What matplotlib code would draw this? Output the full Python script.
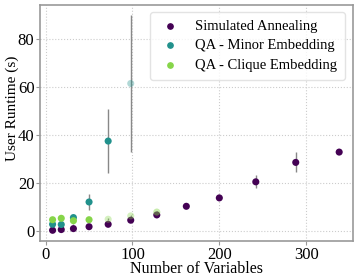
import matplotlib
matplotlib.use('Agg')
import matplotlib.pyplot as plt
import numpy as np

plt.rcParams['font.family'] = ['Liberation Serif', 'DejaVu Serif']

# ข้อมูล (อ่านจากภาพ)
x_sa = [8, 18, 32, 50, 72, 98, 128, 162, 200, 242, 288, 338]
y_sa = [0.3, 0.6, 1.0, 1.8, 2.8, 4.5, 6.7, 10.3, 13.8, 20.5, 28.6, 32.9]
e_sa = [0.4, 0.4, 0.3, 0.4, 0.5, 0.6, 0.6, 0.8, 0.6, 2.7, 4.2, 0.6]
a_sa = [1, 1, 1, 1, 1, 1, 1, 1, 1, 1, 1, 1]

x_minor = [8, 18, 32, 50, 72, 98]
y_minor = [2.8, 2.7, 5.6, 12.1, 37.5, 61.5]
e_minor = [0.5, 0.5, 0.8, 3.3, 13.4, 28.5]
a_minor = [1, 1, 1, 1, 1, 0.35]

x_clique = [8, 18, 32, 50, 72, 98, 128]
y_clique = [4.7, 5.3, 4.3, 4.7, 4.9, 6.3, 7.9]
e_clique = [0.4, 0.4, 1.5, 0.4, 0.4, 0.5, 0.5]
a_clique = [1, 1, 1, 1, 0.35, 0.35, 0.45]

labels = ['Simulated Annealing', 'QA - Minor Embedding', 'QA - Clique Embedding']
cmap = plt.get_cmap('viridis')
colors = [cmap(0.0), cmap(0.5), cmap(0.82)]

fig = plt.figure(figsize=(3.57, 2.80), dpi=100)
ax = fig.add_axes([0.112, 0.139, 0.877, 0.843])

series = [(x_sa, y_sa, e_sa, a_sa), (x_minor, y_minor, e_minor, a_minor),
          (x_clique, y_clique, e_clique, a_clique)]
for (xs, ys, es, als), lab, col in zip(series, labels, colors):
    ax.errorbar(xs, ys, yerr=es, fmt='none', ecolor='#888888', elinewidth=1.0, zorder=2)
    rgba = [(col[0], col[1], col[2], a) for a in als]
    ax.scatter(xs, ys, s=26, c=rgba, edgecolors='none', zorder=3)
    ax.scatter([], [], s=26, color=col, label=lab)

ax.set_xlim(-6.5, 354)
ax.set_ylim(-4.2, 94.2)
ax.set_xticks([0, 100, 200, 300])
ax.set_yticks([0, 20, 40, 60, 80])
ax.grid(True, ls=':', color='#cccccc', lw=0.8)
ax.set_axisbelow(True)
for sp in ax.spines.values():
    sp.set_color('#999999')
    sp.set_linewidth(1.2)
ax.tick_params(colors='#999999', labelcolor='black', labelsize=12, length=3, pad=1)

ax.set_xlabel('Number of Variables', fontsize=11.5)
ax.set_ylabel('User Runtime (s)', fontsize=11)
ax.xaxis.set_label_coords(0.5, -0.085)
ax.yaxis.set_label_coords(-0.068, 0.564)

leg = ax.legend(loc='upper right', bbox_to_anchor=(0.974, 0.972), borderaxespad=0,
                fontsize=10.5, frameon=True, fancybox=True,
                handletextpad=0.9, borderpad=0.55, labelspacing=0.42,
                handlelength=1.6, markerscale=0.75)
leg.get_frame().set_edgecolor('#dddddd')

fig.savefig('out.png', dpi=100)
